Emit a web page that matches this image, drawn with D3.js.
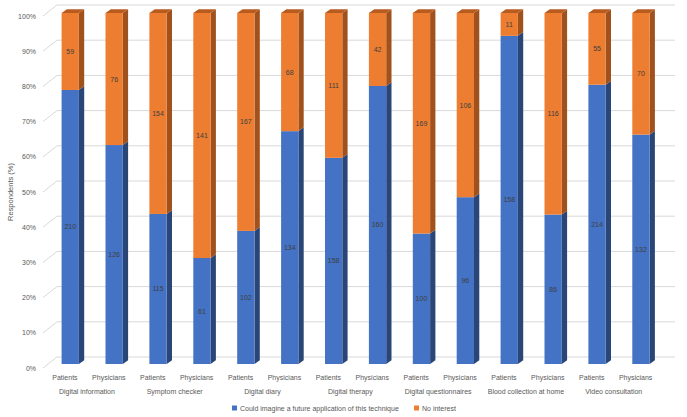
<!DOCTYPE html>
<html><head><meta charset="utf-8">
<script src="https://cdn.jsdelivr.net/npm/d3@7"></script>
<style>body{margin:0;background:#fff} text{font-family:"Liberation Sans",Arial,sans-serif}</style>
</head><body><svg id="c" width="687" height="417"></svg>
<script>
const groups = ["Digital information","Symptom checker","Digital diary","Digital therapy","Digital questionnaires","Blood collection at home","Video consultation"];
const respondents = ["Patients","Physicians"];
const couldImagine = [210,126,115,61,102,134,158,160,100,96,158,86,214,132];
const noInterest = [59,76,154,141,167,68,111,42,169,106,11,116,55,70];
const yTicks = [0,0.1,0.2,0.3,0.4,0.5,0.6,0.7,0.8,0.9,1];
const seriesNames = ["Could imagine a future application of this technique","No interest"];
const yTitle = "Respondents (%)";

const svg = d3.select("#c");
const bars = couldImagine.map((v,i)=>({i, group:groups[Math.floor(i/2)], resp:respondents[i%2], a:v, b:noInterest[i], tot:v+noInterest[i]}));

const x = d3.scaleBand().domain(d3.range(bars.length)).range([43,657.6]);
const yFront = d3.scaleLinear().domain([0,1]).range([368,16]);
const yBack = d3.scaleLinear().domain([0,1]).range([357,5]);
const yBar = d3.scaleLinear().domain([0,1]).range([364,13]);
const WDX=14, backRight=675;
const bw=17.3, bdx=5.3, bdy=3.8, shift=5.3;

// gridlines
const g = svg.append("g");
yTicks.forEach(t=>{
  g.append("line").attr("x1",43).attr("y1",yFront(t)).attr("x2",43+WDX).attr("y2",yBack(t)).attr("stroke","#d9d9d9").attr("stroke-width",1);
  g.append("line").attr("x1",43+WDX).attr("y1",yBack(t)).attr("x2",backRight).attr("y2",yBack(t)).attr("stroke","#d9d9d9").attr("stroke-width",1);
});
// y tick labels
svg.append("g").selectAll("text").data(yTicks).join("text")
  .attr("x",36).attr("y",t=>yFront(t)+2.5).attr("text-anchor","end")
  .attr("font-size",7).attr("fill","#595959").text(d3.format(".0%"));
svg.append("text").attr("transform","translate(13,192) rotate(-90)").attr("text-anchor","middle")
  .attr("font-size",7.5).attr("fill","#595959").text(yTitle);

const colors = {front:["#4472C4","#ED7D31"], side:["#2A4677","#A0511C"], top:["#3A62A8","#B85B1F"]};
const poly = pts => "M"+pts.map(p=>p.join(",")).join("L")+"Z";

const bg = svg.append("g");
bars.forEach(d=>{
  const cx = x(d.i)+x.bandwidth()/2+shift;
  const x0 = cx-bw/2, x1 = cx+bw/2;
  const segs = [[0,d.a/d.tot,0,d.a],[d.a/d.tot,1,1,d.b]];
  segs.forEach(([p0,p1,k,val])=>{
    const yb=yBar(p0), yt=yBar(p1);
    bg.append("path").attr("d",poly([[x1,yb],[x1+bdx,yb-bdy],[x1+bdx,yt-bdy],[x1,yt]])).attr("fill",colors.side[k]);
    bg.append("rect").attr("x",x0).attr("y",yt).attr("width",bw).attr("height",yb-yt).attr("fill",colors.front[k]);
    if(p1===1){
      bg.append("path").attr("d",poly([[x0,yt],[x0+bdx,yt-bdy],[x1+bdx,yt-bdy],[x1,yt]])).attr("fill",colors.top[k]);
    }
    bg.append("text").attr("x",cx).attr("y",(yb+yt)/2+2.5).attr("text-anchor","middle")
      .attr("font-size",7).attr("fill","#404040").text(val);
  });
});

// category labels
svg.append("g").selectAll("text").data(bars).join("text")
  .attr("x",d=>x(d.i)+x.bandwidth()/2).attr("y",380).attr("text-anchor","middle")
  .attr("font-size",7).attr("fill","#595959").text(d=>d.resp);
svg.append("g").selectAll("text").data(groups).join("text")
  .attr("x",(d,j)=>x(2*j+1)).attr("y",394).attr("text-anchor","middle")
  .attr("font-size",7).attr("fill","#595959").text(d=>d);

// legend
const lg = svg.append("g");
[[232,0],[414,1]].forEach(([lx,k])=>{
  lg.append("rect").attr("x",lx).attr("y",405.5).attr("width",5).attr("height",5).attr("fill",colors.front[k]);
  lg.append("text").attr("x",lx+8).attr("y",410.5).attr("font-size",7).attr("fill","#595959").text(seriesNames[k]);
});
</script></body></html>
